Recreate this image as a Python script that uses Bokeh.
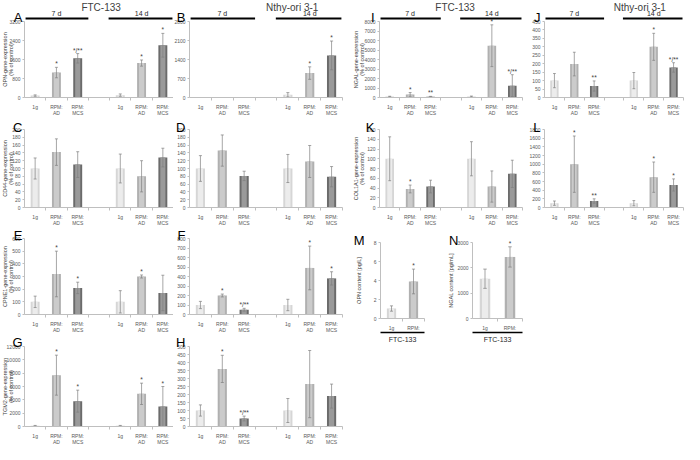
import math
from bokeh.plotting import figure
from bokeh.models import Range1d, FixedTicker, Label
from bokeh.layouts import row, column
from bokeh.embed import file_html
from bokeh.resources import INLINE
from bokeh.core.properties import value

FONT = "Liberation Sans"

# ---------------- data ----------------
time_groups = ["7 d", "14 d"]
conditions = ["1g", "RPM:\nAD", "RPM:\nMCS"]
cell_lines = ["FTC-133", "Nthy-ori 3-1"]
mn_conditions = ["1g", "RPM:"]

A_ticks = [0, 800, 1600, 2400, 3200]
A_vals = [80, 1050, 1650, 100, 1450, 2200]
A_errs = [30, 220, 200, 50, 130, 500]
A_sig = ["", "*", "*/**", "", "*", "*"]

B_ticks = [0, 700, 1400, 2100, 2800]
B_vals = [None, None, None, 100, 900, 1550]
B_errs = [None, None, None, 80, 230, 530]
B_sig = ["", "", "", "", "*", "*"]

C_ticks = [0, 20, 40, 60, 80, 100, 120, 140, 160, 180, 200]
C_vals = [100, 142, 110, 100, 80, 128]
C_errs = [27, 34, 33, 37, 40, 24]
C_sig = ["", "", "", "", "", ""]

D_ticks = [0, 20, 40, 60, 80, 100, 120, 140, 160, 180, 200]
D_vals = [100, 146, 81, 100, 118, 79]
D_errs = [33, 40, 12, 36, 41, 26]
D_sig = ["", "", "", "", "", ""]

E_ticks = [0, 100, 200, 300, 400, 500, 600]
E_vals = [100, 320, 210, 100, 300, 170]
E_errs = [45, 180, 45, 88, 12, 140]
E_sig = ["", "*", "*", "", "*", ""]

F_ticks = [0, 100, 200, 300, 400, 500, 600, 700, 800]
F_vals = [100, 200, 50, 100, 490, 380]
F_errs = [38, 15, 15, 60, 230, 70]
F_sig = ["", "*", "*/**", "", "*", "*"]

G_ticks = [0, 2000, 4000, 6000, 8000, 10000, 12000]
G_vals = [100, 7700, 3800, 100, 4900, 3000]
G_errs = [60, 3000, 1650, 60, 1600, 3000]
G_sig = ["", "*", "*", "", "*", "*"]

H_ticks = [0, 50, 100, 150, 200, 250, 300, 350, 400, 450, 500]
H_vals = [100, 360, 50, 100, 265, 190]
H_errs = [35, 85, 15, 75, 210, 75]
H_sig = ["", "*", "*/**", "", "", ""]

I_ticks = [0, 1000, 2000, 3000, 4000, 5000, 6000, 7000, 8000]
I_vals = [100, 320, 90, 100, 5450, 1250]
I_errs = [30, 200, 30, 50, 2200, 1150]
I_sig = ["", "*", "**", "", "*", "*/**"]

J_ticks = [0, 50, 100, 150, 200, 250, 300, 350, 400, 450]
J_vals = [100, 198, 68, 100, 300, 178]
J_errs = [42, 70, 30, 48, 80, 28]
J_sig = ["", "", "**", "", "*", "*/**"]

K_ticks = [0, 20, 40, 60, 80, 100, 120, 140, 160]
K_vals = [100, 38, 43, 100, 43, 69]
K_errs = [45, 8, 13, 35, 32, 28]
K_sig = ["", "*", "", "", "", ""]

L_ticks = [0, 200, 400, 600, 800, 1000, 1200, 1400, 1600, 1800]
L_vals = [100, 1000, 150, 100, 700, 520]
L_errs = [50, 650, 50, 60, 350, 140]
L_sig = ["", "*", "**", "", "*", "*"]

M_ticks = [0, 2, 4, 6, 8]
M_vals = [1.05, 3.9]
M_errs = [0.28, 1.3]
M_sig = ["", "*"]

N_ticks = [0, 1000, 2000, 3000]
N_vals = [1570, 2430]
N_errs = [380, 400]
N_sig = ["", "*"]

# ---------------- style ----------------
BAR_EDGE = ["#d6d6d6", "#b0b0b0", "#6b6b6b"]
BAR_FILL = ["#ececec", "#cbcbcb", "#9a9a9a"]
AXC = "#bfbfbf"
TXT = "#595959"

# slot positions: 3 conditions per time group, one empty slot between the groups
SLOTS7 = [g * 4 + c + 1 for g in range(2) for c in range(3)]
LABELS7 = [conditions[c] for g in range(2) for c in range(3)]
COND7 = [c for g in range(2) for c in range(3)]


def panel(vals, errs, sig, ticks, w, h, bl, br, zero, tt, letter, letter_gap, letter_base,
          ylabel=None, ylabel_cx=None, slots=SLOTS7, labels=LABELS7, cond=COND7, nslots=7,
          top_title=None, title_x=None, brackets=False, bottom_group=None):
    # whole figure is the frame; axes are pinned inside it with fixed_location
    ymax = ticks[-1]
    ppx = (w - bl - br) / nslots
    ppy = (zero - tt) / ymax
    x0 = 0.5 - bl / ppx
    x1 = nslots + 0.5 + br / ppx
    y0 = -(h - zero) / ppy
    y1 = zero / ppy

    def xd(px):
        return x0 + px / ppx

    def yd(py):
        return (zero - py) / ppy

    p = figure(width=w, height=h, x_range=Range1d(x0, x1), y_range=Range1d(y0, y1),
               output_backend="svg", toolbar_location=None,
               min_border_left=0, min_border_right=0, min_border_top=0, min_border_bottom=0)
    p.outline_line_color = None
    p.grid.visible = False
    p.background_fill_color = "white"
    p.border_fill_color = "white"

    xa = p.xaxis[0]
    xa.fixed_location = 0
    xa.bounds = (0.5, nslots + 0.5)
    xa.ticker = FixedTicker(ticks=list(slots), minor_ticks=[s + 0.5 for s in range(1, nslots + 1)])
    xa.major_label_overrides = {s: lab for s, lab in zip(slots, labels)}
    xa.major_label_text_font = FONT
    xa.major_label_text_font_size = "5px"
    xa.major_label_text_color = TXT
    xa.major_label_text_line_height = 1.1
    xa.major_label_standoff = 3
    xa.major_tick_line_color = None
    xa.major_tick_out = 0
    xa.major_tick_in = 0
    xa.minor_tick_out = 3
    xa.minor_tick_in = 0
    xa.minor_tick_line_color = AXC
    xa.axis_line_color = AXC

    ya = p.yaxis[0]
    ya.fixed_location = 0.5
    ya.bounds = (0, ymax)
    ya.ticker = FixedTicker(ticks=list(ticks))
    ya.major_label_text_font = FONT
    ya.major_label_text_font_size = "5px"
    ya.major_label_text_color = TXT
    ya.major_label_standoff = 2
    ya.major_tick_out = 2
    ya.major_tick_in = 0
    ya.major_tick_line_color = AXC
    ya.minor_tick_line_color = None
    ya.axis_line_color = AXC

    xs, tops, ecol, fcol, lo, hi, sx, sy, st = [], [], [], [], [], [], [], [], []
    for i, v in enumerate(vals):
        if v is None:
            continue
        xs.append(slots[i])
        tops.append(v)
        ecol.append(BAR_EDGE[cond[i]])
        fcol.append(BAR_FILL[cond[i]])
        lo.append(max(v - errs[i], 0))
        hi.append(v + errs[i])
        if sig[i]:
            sx.append(slots[i])
            sy.append(v + errs[i])
            st.append(sig[i])
    if xs:
        p.vbar(x=xs, top=tops, width=0.42, fill_color=ecol, line_color=None)
        p.vbar(x=xs, top=tops, width=0.24, fill_color=fcol, line_color=None)
        cw = 0.07
        p.segment(x0=xs, y0=lo, x1=xs, y1=hi, line_color="#808080", line_width=0.7)
        p.segment(x0=[x - cw for x in xs], y0=hi, x1=[x + cw for x in xs], y1=hi,
                  line_color="#808080", line_width=0.7)
        p.segment(x0=[x - cw for x in xs], y0=lo, x1=[x + cw for x in xs], y1=lo,
                  line_color="#808080", line_width=0.7)
    if st:
        p.text(x=sx, y=sy, text=st, text_align="center", text_baseline="bottom",
               text_font=value(FONT), text_font_size="6.5px", text_color="#404040")

    if brackets:
        yb = yd(tt - 3)
        p.segment(x0=[0.55, 4.45], y0=[yb, yb], x1=[3.5, 7.45], y1=[yb, yb],
                  line_color="black", line_width=2)
        p.text(x=[2, 6], y=[yd(tt - 5)] * 2, text=time_groups, text_align="center",
               text_baseline="bottom", text_font=value(FONT), text_font_size="7px",
               text_color="#262626")
    if top_title:
        p.text(x=[title_x], y=[yd(1.5)], text=[top_title], text_align="center",
               text_baseline="top", text_font=value(FONT), text_font_size="10px",
               text_color="#404040")
    if bottom_group:
        yb = yd(zero + 14)
        p.segment(x0=[0.5], y0=[yb], x1=[nslots + 0.5], y1=[yb], line_color="black", line_width=1.5)
        p.text(x=[(nslots + 1) / 2], y=[yd(zero + 17)], text=[bottom_group], text_align="center",
               text_baseline="top", text_font=value(FONT), text_font_size="7px",
               text_color="#262626")

    p.add_layout(Label(x=xd(bl - letter_gap), y=yd(letter_base), text=letter,
                       text_align="right", text_baseline="alphabetic",
                       text_font=FONT, text_font_size="13px", text_color="black"))
    if ylabel:
        p.add_layout(Label(x=xd(ylabel_cx), y=ymax / 2, text=ylabel, angle=math.pi / 2,
                           text_align="center", text_baseline="middle", text_font=FONT,
                           text_font_size="5.5px", text_line_height=1.0, text_color="#404040"))
    return p


COL_W = [173, 171, 179, 161]
COL_BL = [24, 16, 35, 21]
COL_BR = [0, 2, 1, 1]
COL_YL = [7, None, 14, None]
COL_GAP = [2, 4, 5, 4]
ROWS = [dict(h=115, zero=97, tt=21, lb=16.5),
        dict(h=110, zero=92, tt=14, lb=12),
        dict(h=107, zero=89, tt=13, lb=10),
        dict(h=112, zero=94, tt=14, lb=10)]


def grid_panel(ci, ri, vals, errs, sig, ticks, letter, ylabel=None, **kw):
    r = ROWS[ri]
    return panel(vals, errs, sig, ticks, COL_W[ci], r["h"], COL_BL[ci], COL_BR[ci], r["zero"],
                 r["tt"], letter, COL_GAP[ci], r["lb"], ylabel=ylabel, ylabel_cx=COL_YL[ci], **kw)


pA = grid_panel(0, 0, A_vals, A_errs, A_sig, A_ticks, "A", "OPN-gene-expression\n(% of control)",
                top_title=cell_lines[0], title_x=4.1, brackets=True)
pB = grid_panel(1, 0, B_vals, B_errs, B_sig, B_ticks, "B", top_title=cell_lines[1], title_x=5.2,
                brackets=True)
pI = grid_panel(2, 0, I_vals, I_errs, I_sig, I_ticks, "I", "NGAL-gene-expression\n(% of control)",
                top_title=cell_lines[0], title_x=4.2, brackets=True)
pJ = grid_panel(3, 0, J_vals, J_errs, J_sig, J_ticks, "J", top_title=cell_lines[1], title_x=5.3,
                brackets=True)
pC = grid_panel(0, 1, C_vals, C_errs, C_sig, C_ticks, "C", "CD44-gene-expression\n(% of control)")
pD = grid_panel(1, 1, D_vals, D_errs, D_sig, D_ticks, "D")
pK = grid_panel(2, 1, K_vals, K_errs, K_sig, K_ticks, "K", "COL1A1-gene-expression\n(% of control)")
pL = grid_panel(3, 1, L_vals, L_errs, L_sig, L_ticks, "L")
pE = grid_panel(0, 2, E_vals, E_errs, E_sig, E_ticks, "E", "CPNE1-gene-expression\n(% of control)")
pF = grid_panel(1, 2, F_vals, F_errs, F_sig, F_ticks, "F")
pG = grid_panel(0, 3, G_vals, G_errs, G_sig, G_ticks, "G", "TGM2-gene-expression\n(% of control)")
pH = grid_panel(1, 3, H_vals, H_errs, H_sig, H_ticks, "H")

pM = panel(M_vals, M_errs, M_sig, M_ticks, 94, 123, 36, 14, 93, 17, "M", 16, 15,
           ylabel="OPN content [pg/L]", ylabel_cx=14, slots=[1, 2], labels=mn_conditions,
           cond=[0, 1], nslots=2, bottom_group=cell_lines[0])
pN = panel(N_vals, N_errs, N_sig, N_ticks, 85, 123, 34, 1, 93, 17, "N", 14, 15,
           ylabel="NGAL content [pg/mL]", ylabel_cx=12, slots=[1, 2], labels=mn_conditions,
           cond=[0, 1], nslots=2, bottom_group=cell_lines[0])

layout = row(column(pA, pC, pE, pG), column(pB, pD, pF, pH), column(pI, pK, row(pM, pN)),
             column(pJ, pL))

open("out.html", "w").write(file_html(layout, INLINE))
